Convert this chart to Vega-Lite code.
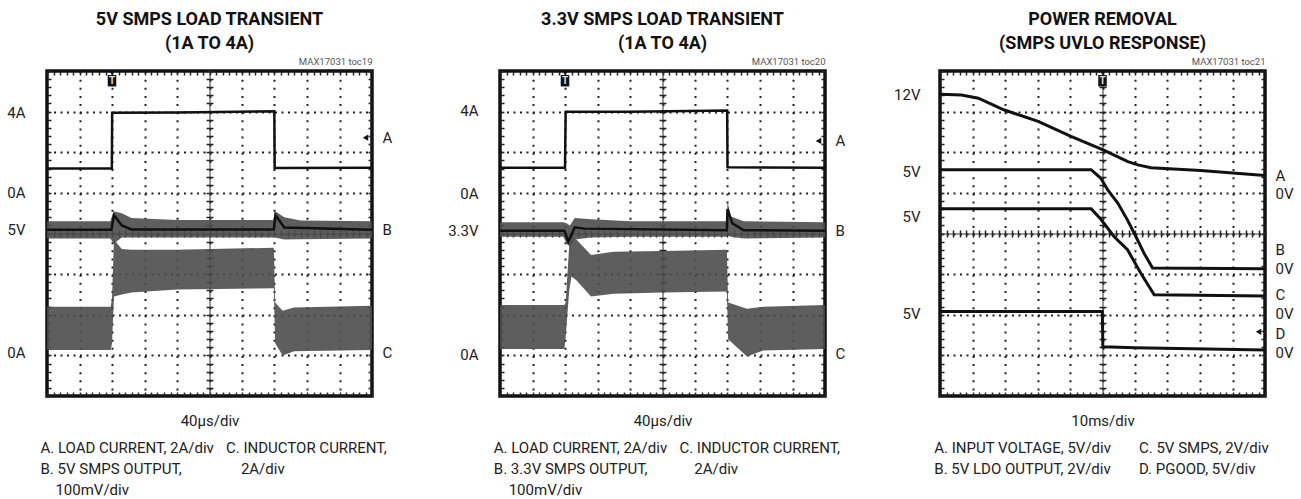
{
"$schema": "https://vega.github.io/schema/vega-lite/v6.json",
"padding": {"left": 5, "top": 9, "right": 0, "bottom": 0},
"bounds": "flush",
"spacing": 0,
"config": {
  "view": {"stroke": "#111", "strokeWidth": 3.5},
  "axis": {"grid": false, "ticks": false, "labels": false, "domain": false,
    "labelFont": "Roboto, sans-serif", "labelFontSize": 15, "labelColor": "#222",
    "labelOverlap": false, "labelBound": false, "labelFlush": false,
    "titleFont": "Roboto, sans-serif", "titleFontSize": 15, "titleFontWeight": "normal", "titleColor": "#222",
    "tickColor": "#222", "tickWidth": 1.5, "domainColor": "#333", "domainWidth": 1, "gridColor": "#222", "gridWidth": 2}
},
"datasets": {
  "p1_lines": [
    {"trace":"A","x":0,"y":5.6},{"trace":"A","x":1.995,"y":5.6},{"trace":"A","x":2.005,"y":6.97},{"trace":"A","x":4,"y":6.98},{"trace":"A","x":6.995,"y":7.01},{"trace":"A","x":7.005,"y":5.61},{"trace":"A","x":10,"y":5.62},
    {"trace":"B","x":0,"y":4.09},{"trace":"B","x":1.98,"y":4.09},{"trace":"B","x":2.06,"y":4.45},{"trace":"B","x":2.3,"y":4.2},{"trace":"B","x":2.6,"y":4.1},{"trace":"B","x":6.98,"y":4.1},{"trace":"B","x":7.03,"y":4.45},{"trace":"B","x":7.3,"y":4.15},{"trace":"B","x":10,"y":4.09}
  ],
  "p1_bands": [
    {"trace":"B","x":0,"lo":3.88,"hi":4.3},{"trace":"B","x":1.95,"lo":3.88,"hi":4.3},{"trace":"B","x":2.05,"lo":3.75,"hi":4.55},{"trace":"B","x":2.3,"lo":3.9,"hi":4.5},{"trace":"B","x":2.6,"lo":3.9,"hi":4.38},{"trace":"B","x":4,"lo":3.9,"hi":4.33},{"trace":"B","x":6.97,"lo":3.9,"hi":4.33},{"trace":"B","x":7.02,"lo":3.9,"hi":4.55},{"trace":"B","x":7.3,"lo":3.85,"hi":4.4},{"trace":"B","x":7.8,"lo":3.86,"hi":4.32},{"trace":"B","x":10,"lo":3.88,"hi":4.3},
    {"trace":"C","x":0,"lo":1.13,"hi":2.2},{"trace":"C","x":1.96,"lo":1.13,"hi":2.2},{"trace":"C","x":2.0,"lo":1.3,"hi":2.4},{"trace":"C","x":2.06,"lo":2.45,"hi":3.85},{"trace":"C","x":2.3,"lo":2.5,"hi":3.62},{"trace":"C","x":2.6,"lo":2.55,"hi":3.6},{"trace":"C","x":4,"lo":2.62,"hi":3.6},{"trace":"C","x":6.98,"lo":2.65,"hi":3.65},{"trace":"C","x":7.02,"lo":1.3,"hi":2.3},{"trace":"C","x":7.25,"lo":1.0,"hi":2.1},{"trace":"C","x":7.6,"lo":1.1,"hi":2.18},{"trace":"C","x":10,"lo":1.13,"hi":2.22}
  ],
  "p1_trig": [{"x":2,"y":7.76}],
  "p1_gnd": [{"x":9.8,"y":6.36}],
  "p2_lines": [
    {"trace":"A","x":0,"y":5.62},{"trace":"A","x":2.0,"y":5.62},{"trace":"A","x":2.02,"y":7.0},{"trace":"A","x":4,"y":7.0},{"trace":"A","x":6.99,"y":7.03},{"trace":"A","x":7.0,"y":5.63},{"trace":"A","x":10,"y":5.62},
    {"trace":"B","x":0,"y":4.07},{"trace":"B","x":1.98,"y":4.07},{"trace":"B","x":2.1,"y":3.8},{"trace":"B","x":2.3,"y":4.15},{"trace":"B","x":2.6,"y":4.12},{"trace":"B","x":6.98,"y":4.08},{"trace":"B","x":7.0,"y":4.6},{"trace":"B","x":7.15,"y":4.25},{"trace":"B","x":7.5,"y":4.08},{"trace":"B","x":10,"y":4.07}
  ],
  "p2_bands": [
    {"trace":"B","x":0,"lo":3.92,"hi":4.28},{"trace":"B","x":1.95,"lo":3.92,"hi":4.28},{"trace":"B","x":2.05,"lo":3.75,"hi":4.25},{"trace":"B","x":2.15,"lo":3.68,"hi":4.2},{"trace":"B","x":2.3,"lo":3.85,"hi":4.38},{"trace":"B","x":2.8,"lo":3.9,"hi":4.35},{"trace":"B","x":4,"lo":3.92,"hi":4.3},{"trace":"B","x":6.98,"lo":3.92,"hi":4.3},{"trace":"B","x":7.0,"lo":3.95,"hi":4.8},{"trace":"B","x":7.1,"lo":3.92,"hi":4.42},{"trace":"B","x":7.5,"lo":3.88,"hi":4.3},{"trace":"B","x":10,"lo":3.9,"hi":4.28},
    {"trace":"C","x":0,"lo":1.16,"hi":2.24},{"trace":"C","x":1.98,"lo":1.16,"hi":2.24},{"trace":"C","x":2.02,"lo":1.45,"hi":2.3},{"trace":"C","x":2.13,"lo":2.6,"hi":3.7},{"trace":"C","x":2.2,"lo":2.94,"hi":3.89},{"trace":"C","x":2.35,"lo":2.85,"hi":3.85},{"trace":"C","x":2.8,"lo":2.45,"hi":3.47},{"trace":"C","x":3.5,"lo":2.52,"hi":3.55},{"trace":"C","x":5,"lo":2.55,"hi":3.57},{"trace":"C","x":6.98,"lo":2.57,"hi":3.6},{"trace":"C","x":7.02,"lo":1.4,"hi":2.3},{"trace":"C","x":7.6,"lo":0.97,"hi":2.15},{"trace":"C","x":8.1,"lo":1.12,"hi":2.2},{"trace":"C","x":10,"lo":1.16,"hi":2.24}
  ],
  "p2_trig": [{"x":2,"y":7.76}],
  "p2_gnd": [{"x":9.8,"y":6.28}],
  "p3_lines": [
    {"trace":"A","x":0,"y":7.43},{"trace":"A","x":0.66,"y":7.41},{"trace":"A","x":1.18,"y":7.33},{"trace":"A","x":1.98,"y":7.04},{"trace":"A","x":3.02,"y":6.76},{"trace":"A","x":4.03,"y":6.39},{"trace":"A","x":5.02,"y":6.06},{"trace":"A","x":5.78,"y":5.77},{"trace":"A","x":6.09,"y":5.69},{"trace":"A","x":6.49,"y":5.62},{"trace":"A","x":8.02,"y":5.55},{"trace":"A","x":10,"y":5.43},
    {"trace":"B","x":0,"y":5.57},{"trace":"B","x":4.65,"y":5.57},{"trace":"B","x":4.95,"y":5.36},{"trace":"B","x":5.16,"y":5.07},{"trace":"B","x":5.47,"y":4.75},{"trace":"B","x":5.77,"y":4.33},{"trace":"B","x":6.03,"y":3.92},{"trace":"B","x":6.28,"y":3.51},{"trace":"B","x":6.54,"y":3.15},{"trace":"B","x":10,"y":3.13},
    {"trace":"C","x":0,"y":4.61},{"trace":"C","x":4.65,"y":4.61},{"trace":"C","x":4.95,"y":4.35},{"trace":"C","x":5.36,"y":3.92},{"trace":"C","x":5.77,"y":3.6},{"trace":"C","x":6.18,"y":3.02},{"trace":"C","x":6.59,"y":2.49},{"trace":"C","x":10,"y":2.46},
    {"trace":"D","x":0,"y":2.08},{"trace":"D","x":4.995,"y":2.08},{"trace":"D","x":5.01,"y":1.21},{"trace":"D","x":6,"y":1.19},{"trace":"D","x":10,"y":1.13}
  ],
  "p3_trig": [{"x":5,"y":7.76}],
  "p3_gnd": [{"x":9.8,"y":1.58}]
},
"hconcat": [
 {
  "width": 325, "height": 325,
  "title": {"text": ["5V SMPS LOAD TRANSIENT", "(1A TO 4A)"], "font": "Roboto, sans-serif", "fontSize": 18, "fontWeight": "bold", "lineHeight": 23.5, "color": "#111", "anchor": "middle", "offset": 4},
  "resolve": {"axis": {"x": "independent", "y": "independent"}},
  "layer": [
   {"data": {"values": []}, "mark": {"type": "rule"}, "encoding": {
     "x": {"field": "x", "type": "quantitative", "scale": {"domain": [0, 10], "nice": false, "zero": false}, "axis": {"orient": "bottom", "grid": true, "values": [1,2,3,4,5,6,7,8,9], "gridDash": [2, 6.125], "title": ["A. LOAD CURRENT, 2A/div", "B. 5V SMPS OUTPUT,", "\u200b\u00a0\u00a0\u00a0\u00a0100mV/div"], "titleX": -7, "titleY": 56, "titleAlign": "left", "titleAnchor": "start", "titleBaseline": "alphabetic", "titleLineHeight": 21}},
     "y": {"field": "y", "type": "quantitative", "scale": {"domain": [0, 8], "nice": false, "zero": false}, "axis": {"orient": "left", "grid": true, "values": [1,2,3,4,5,6,7], "gridDash": [2, 4.5], "title": null}}}},
   {"data": {"values": []}, "mark": {"type": "rule"}, "encoding": {
     "x": {"field": "x", "type": "quantitative", "scale": {"domain": [0, 10], "nice": false, "zero": false}, "axis": {"orient": "top", "ticks": true, "tickCount": 50, "tickSize": -4, "title": "MAX17031 toc19", "titleFontSize": 9.5, "titleColor": "#555", "titleX": 325, "titleY": -6.5, "titleAlign": "right", "titleAnchor": "end", "titleBaseline": "alphabetic"}},
     "y": {"field": "y", "type": "quantitative", "scale": {"domain": [0, 8], "nice": false, "zero": false}, "axis": {"orient": "left", "ticks": true, "tickCount": 40, "tickSize": -4, "title": null}}}},
   {"data": {"values": []}, "mark": {"type": "rule"}, "encoding": {
     "x": {"field": "x", "type": "quantitative", "scale": {"domain": [0, 10], "nice": false, "zero": false}, "axis": {"orient": "bottom", "ticks": true, "tickCount": 50, "tickSize": -4, "title": "40\u00b5s/div", "titleX": 162.5, "titleY": 29.5, "titleAlign": "center", "titleAnchor": "middle", "titleBaseline": "alphabetic"}},
     "y": {"field": "y", "type": "quantitative", "scale": {"domain": [0, 8], "nice": false, "zero": false}, "axis": {"orient": "right", "ticks": true, "tickCount": 40, "tickSize": -4, "title": null}}}},
   {"data": {"values": []}, "mark": {"type": "rule"}, "encoding": {
     "x": {"field": "x", "type": "quantitative", "scale": {"domain": [0, 10], "nice": false, "zero": false}, "axis": {"orient": "bottom", "offset": -162.5, "ticks": true, "tickCount": 50, "tickSize": 3.5, "domain": true, "title": null}},
     "y": {"field": "y", "type": "quantitative", "scale": {"domain": [0, 8], "nice": false, "zero": false}, "axis": {"orient": "left", "offset": -162.5, "ticks": true, "tickCount": 40, "tickSize": 3.5, "domain": true, "title": null}}}},
   {"data": {"values": []}, "mark": {"type": "rule"}, "encoding": {
     "x": {"field": "x", "type": "quantitative", "scale": {"domain": [0, 10], "nice": false, "zero": false}, "axis": {"orient": "top", "offset": -162.5, "ticks": true, "tickCount": 50, "tickSize": 3.5, "title": null}},
     "y": {"field": "y", "type": "quantitative", "scale": {"domain": [0, 8], "nice": false, "zero": false}, "axis": {"orient": "right", "offset": -162.5, "ticks": true, "tickCount": 40, "tickSize": 3.5, "title": null}}}},
   {"data": {"values": []}, "mark": {"type": "rule"}, "encoding": {
     "x": {"field": "x", "type": "quantitative", "scale": {"domain": [0, 10], "nice": false, "zero": false}, "axis": {"orient": "bottom", "title": ["C. INDUCTOR CURRENT,", "\u200b\u00a0\u00a0\u00a0\u00a02A/div"], "titleX": 178.5, "titleY": 56, "titleAlign": "left", "titleAnchor": "start", "titleBaseline": "alphabetic", "titleLineHeight": 21}},
     "y": {"field": "y", "type": "quantitative", "scale": {"domain": [0, 8], "nice": false, "zero": false}, "axis": {"orient": "left", "labels": true, "values": [6.98, 5.01, 4.09, 1.06], "labelExpr": "['4A','0A','5V','0A'][indexof([6.98, 5.01, 4.09, 1.06], datum.value)]", "labelPadding": 22, "title": null}}}},
   {"data": {"values": []}, "mark": {"type": "rule"}, "encoding": {
     "x": {"field": "x", "type": "quantitative", "scale": {"domain": [0, 10], "nice": false, "zero": false}, "axis": null},
     "y": {"field": "y", "type": "quantitative", "scale": {"domain": [0, 8], "nice": false, "zero": false}, "axis": {"orient": "right", "labels": true, "values": [6.36, 4.09, 1.06], "labelExpr": "['A','B','C'][indexof([6.36, 4.09, 1.06], datum.value)]", "labelPadding": 10, "labelAlign": "left", "title": null}}}},
   {"data": {"name": "p1_bands"}, "mark": {"type": "area", "color": "#4d4d4d", "opacity": 0.9}, "encoding": {
     "x": {"field": "x", "type": "quantitative", "scale": {"domain": [0, 10], "nice": false, "zero": false}, "axis": null},
     "y": {"field": "lo", "type": "quantitative", "scale": {"domain": [0, 8], "nice": false, "zero": false}, "axis": null},
     "y2": {"field": "hi"}, "detail": {"field": "trace"}}},
   {"data": {"name": "p1_lines"}, "mark": {"type": "line", "color": "#111", "strokeWidth": 2.5}, "encoding": {
     "x": {"field": "x", "type": "quantitative", "scale": {"domain": [0, 10], "nice": false, "zero": false}, "axis": null},
     "y": {"field": "y", "type": "quantitative", "scale": {"domain": [0, 8], "nice": false, "zero": false}, "axis": null},
     "detail": {"field": "trace"}}},
   {"data": {"name": "p1_trig"}, "mark": {"type": "point", "shape": "M-0.75,-1H0.75V1H-0.75Z", "filled": true, "color": "#111", "opacity": 1, "size": 130}, "encoding": {
     "x": {"field": "x", "type": "quantitative", "scale": {"domain": [0, 10], "nice": false, "zero": false}, "axis": null},
     "y": {"field": "y", "type": "quantitative", "scale": {"domain": [0, 8], "nice": false, "zero": false}, "axis": null}}},
   {"data": {"name": "p1_trig"}, "mark": {"type": "text", "text": "T", "color": "#ddd", "fontSize": 10, "fontWeight": "bold", "font": "Roboto, sans-serif", "baseline": "middle", "align": "center"}, "encoding": {
     "x": {"field": "x", "type": "quantitative", "scale": {"domain": [0, 10], "nice": false, "zero": false}, "axis": null},
     "y": {"field": "y", "type": "quantitative", "scale": {"domain": [0, 8], "nice": false, "zero": false}, "axis": null}}},
   {"data": {"name": "p1_trig"}, "mark": {"type": "point", "shape": "triangle-down", "filled": true, "color": "#111", "opacity": 1, "size": 25}, "encoding": {
     "x": {"field": "x", "type": "quantitative", "scale": {"domain": [0, 10], "nice": false, "zero": false}, "axis": null},
     "y": {"datum": 7.95, "type": "quantitative", "scale": {"domain": [0, 8], "nice": false, "zero": false}, "axis": null}}},
   {"data": {"name": "p1_gnd"}, "mark": {"type": "point", "shape": "triangle-left", "filled": true, "color": "#111", "opacity": 1, "size": 40}, "encoding": {
     "x": {"field": "x", "type": "quantitative", "scale": {"domain": [0, 10], "nice": false, "zero": false}, "axis": null},
     "y": {"field": "y", "type": "quantitative", "scale": {"domain": [0, 8], "nice": false, "zero": false}, "axis": null}}}
  ]
 },
 {"width": 128, "height": 325, "data": {"values": []}, "mark": {"type": "point"}, "encoding": {}, "view": {"stroke": null}},
 {
  "width": 325, "height": 325,
  "title": {"text": ["3.3V SMPS LOAD TRANSIENT", "(1A TO 4A)"], "font": "Roboto, sans-serif", "fontSize": 18, "fontWeight": "bold", "lineHeight": 23.5, "color": "#111", "anchor": "middle", "offset": 4},
  "resolve": {"axis": {"x": "independent", "y": "independent"}},
  "layer": [
   {"data": {"values": []}, "mark": {"type": "rule"}, "encoding": {
     "x": {"field": "x", "type": "quantitative", "scale": {"domain": [0, 10], "nice": false, "zero": false}, "axis": {"orient": "bottom", "grid": true, "values": [1,2,3,4,5,6,7,8,9], "gridDash": [2, 6.125], "title": ["A. LOAD CURRENT, 2A/div", "B. 3.3V SMPS OUTPUT,", "\u200b\u00a0\u00a0\u00a0\u00a0100mV/div"], "titleX": -6.7, "titleY": 56, "titleAlign": "left", "titleAnchor": "start", "titleBaseline": "alphabetic", "titleLineHeight": 21}},
     "y": {"field": "y", "type": "quantitative", "scale": {"domain": [0, 8], "nice": false, "zero": false}, "axis": {"orient": "left", "grid": true, "values": [1,2,3,4,5,6,7], "gridDash": [2, 4.5], "title": null}}}},
   {"data": {"values": []}, "mark": {"type": "rule"}, "encoding": {
     "x": {"field": "x", "type": "quantitative", "scale": {"domain": [0, 10], "nice": false, "zero": false}, "axis": {"orient": "top", "ticks": true, "tickCount": 50, "tickSize": -4, "title": "MAX17031 toc20", "titleFontSize": 9.5, "titleColor": "#555", "titleX": 325, "titleY": -6.5, "titleAlign": "right", "titleAnchor": "end", "titleBaseline": "alphabetic"}},
     "y": {"field": "y", "type": "quantitative", "scale": {"domain": [0, 8], "nice": false, "zero": false}, "axis": {"orient": "left", "ticks": true, "tickCount": 40, "tickSize": -4, "title": null}}}},
   {"data": {"values": []}, "mark": {"type": "rule"}, "encoding": {
     "x": {"field": "x", "type": "quantitative", "scale": {"domain": [0, 10], "nice": false, "zero": false}, "axis": {"orient": "bottom", "ticks": true, "tickCount": 50, "tickSize": -4, "title": "40\u00b5s/div", "titleX": 162.5, "titleY": 29.5, "titleAlign": "center", "titleAnchor": "middle", "titleBaseline": "alphabetic"}},
     "y": {"field": "y", "type": "quantitative", "scale": {"domain": [0, 8], "nice": false, "zero": false}, "axis": {"orient": "right", "ticks": true, "tickCount": 40, "tickSize": -4, "title": null}}}},
   {"data": {"values": []}, "mark": {"type": "rule"}, "encoding": {
     "x": {"field": "x", "type": "quantitative", "scale": {"domain": [0, 10], "nice": false, "zero": false}, "axis": {"orient": "bottom", "offset": -162.5, "ticks": true, "tickCount": 50, "tickSize": 3.5, "domain": true, "title": null}},
     "y": {"field": "y", "type": "quantitative", "scale": {"domain": [0, 8], "nice": false, "zero": false}, "axis": {"orient": "left", "offset": -162.5, "ticks": true, "tickCount": 40, "tickSize": 3.5, "domain": true, "title": null}}}},
   {"data": {"values": []}, "mark": {"type": "rule"}, "encoding": {
     "x": {"field": "x", "type": "quantitative", "scale": {"domain": [0, 10], "nice": false, "zero": false}, "axis": {"orient": "top", "offset": -162.5, "ticks": true, "tickCount": 50, "tickSize": 3.5, "title": null}},
     "y": {"field": "y", "type": "quantitative", "scale": {"domain": [0, 8], "nice": false, "zero": false}, "axis": {"orient": "right", "offset": -162.5, "ticks": true, "tickCount": 40, "tickSize": 3.5, "title": null}}}},
   {"data": {"values": []}, "mark": {"type": "rule"}, "encoding": {
     "x": {"field": "x", "type": "quantitative", "scale": {"domain": [0, 10], "nice": false, "zero": false}, "axis": {"orient": "bottom", "title": ["C. INDUCTOR CURRENT,", "\u200b\u00a0\u00a0\u00a0\u00a02A/div"], "titleX": 178.9, "titleY": 56, "titleAlign": "left", "titleAnchor": "start", "titleBaseline": "alphabetic", "titleLineHeight": 21}},
     "y": {"field": "y", "type": "quantitative", "scale": {"domain": [0, 8], "nice": false, "zero": false}, "axis": {"orient": "left", "labels": true, "values": [7.02, 4.99, 4.07, 1.03], "labelExpr": "['4A','0A','3.3V','0A'][indexof([7.02, 4.99, 4.07, 1.03], datum.value)]", "labelPadding": 22, "title": null}}}},
   {"data": {"values": []}, "mark": {"type": "rule"}, "encoding": {
     "x": {"field": "x", "type": "quantitative", "scale": {"domain": [0, 10], "nice": false, "zero": false}, "axis": null},
     "y": {"field": "y", "type": "quantitative", "scale": {"domain": [0, 8], "nice": false, "zero": false}, "axis": {"orient": "right", "labels": true, "values": [6.28, 4.07, 1.05], "labelExpr": "['A','B','C'][indexof([6.28, 4.07, 1.05], datum.value)]", "labelPadding": 10, "labelAlign": "left", "title": null}}}},
   {"data": {"name": "p2_bands"}, "mark": {"type": "area", "color": "#4d4d4d", "opacity": 0.9}, "encoding": {
     "x": {"field": "x", "type": "quantitative", "scale": {"domain": [0, 10], "nice": false, "zero": false}, "axis": null},
     "y": {"field": "lo", "type": "quantitative", "scale": {"domain": [0, 8], "nice": false, "zero": false}, "axis": null},
     "y2": {"field": "hi"}, "detail": {"field": "trace"}}},
   {"data": {"name": "p2_lines"}, "mark": {"type": "line", "color": "#111", "strokeWidth": 2.5}, "encoding": {
     "x": {"field": "x", "type": "quantitative", "scale": {"domain": [0, 10], "nice": false, "zero": false}, "axis": null},
     "y": {"field": "y", "type": "quantitative", "scale": {"domain": [0, 8], "nice": false, "zero": false}, "axis": null},
     "detail": {"field": "trace"}}},
   {"data": {"name": "p2_trig"}, "mark": {"type": "point", "shape": "M-0.75,-1H0.75V1H-0.75Z", "filled": true, "color": "#111", "opacity": 1, "size": 130}, "encoding": {
     "x": {"field": "x", "type": "quantitative", "scale": {"domain": [0, 10], "nice": false, "zero": false}, "axis": null},
     "y": {"field": "y", "type": "quantitative", "scale": {"domain": [0, 8], "nice": false, "zero": false}, "axis": null}}},
   {"data": {"name": "p2_trig"}, "mark": {"type": "text", "text": "T", "color": "#ddd", "fontSize": 10, "fontWeight": "bold", "font": "Roboto, sans-serif", "baseline": "middle", "align": "center"}, "encoding": {
     "x": {"field": "x", "type": "quantitative", "scale": {"domain": [0, 10], "nice": false, "zero": false}, "axis": null},
     "y": {"field": "y", "type": "quantitative", "scale": {"domain": [0, 8], "nice": false, "zero": false}, "axis": null}}},
   {"data": {"name": "p2_trig"}, "mark": {"type": "point", "shape": "triangle-down", "filled": true, "color": "#111", "opacity": 1, "size": 25}, "encoding": {
     "x": {"field": "x", "type": "quantitative", "scale": {"domain": [0, 10], "nice": false, "zero": false}, "axis": null},
     "y": {"datum": 7.95, "type": "quantitative", "scale": {"domain": [0, 8], "nice": false, "zero": false}, "axis": null}}},
   {"data": {"name": "p2_gnd"}, "mark": {"type": "point", "shape": "triangle-left", "filled": true, "color": "#111", "opacity": 1, "size": 40}, "encoding": {
     "x": {"field": "x", "type": "quantitative", "scale": {"domain": [0, 10], "nice": false, "zero": false}, "axis": null},
     "y": {"field": "y", "type": "quantitative", "scale": {"domain": [0, 8], "nice": false, "zero": false}, "axis": null}}}
  ]
 },
 {"width": 115, "height": 325, "data": {"values": []}, "mark": {"type": "point"}, "encoding": {}, "view": {"stroke": null}},
 {
  "width": 325, "height": 325,
  "title": {"text": ["POWER REMOVAL", "(SMPS UVLO RESPONSE)"], "font": "Roboto, sans-serif", "fontSize": 18, "fontWeight": "bold", "lineHeight": 23.5, "color": "#111", "anchor": "middle", "offset": 4},
  "resolve": {"axis": {"x": "independent", "y": "independent"}},
  "layer": [
   {"data": {"values": []}, "mark": {"type": "rule"}, "encoding": {
     "x": {"field": "x", "type": "quantitative", "scale": {"domain": [0, 10], "nice": false, "zero": false}, "axis": {"orient": "bottom", "grid": true, "values": [1,2,3,4,5,6,7,8,9], "gridDash": [2, 6.125], "title": ["A. INPUT VOLTAGE, 5V/div", "B. 5V LDO OUTPUT, 2V/div"], "titleX": -6.2, "titleY": 56, "titleAlign": "left", "titleAnchor": "start", "titleBaseline": "alphabetic", "titleLineHeight": 21}},
     "y": {"field": "y", "type": "quantitative", "scale": {"domain": [0, 8], "nice": false, "zero": false}, "axis": {"orient": "left", "grid": true, "values": [1,2,3,4,5,6,7], "gridDash": [2, 4.5], "title": null}}}},
   {"data": {"values": []}, "mark": {"type": "rule"}, "encoding": {
     "x": {"field": "x", "type": "quantitative", "scale": {"domain": [0, 10], "nice": false, "zero": false}, "axis": {"orient": "top", "ticks": true, "tickCount": 50, "tickSize": -4, "title": "MAX17031 toc21", "titleFontSize": 9.5, "titleColor": "#555", "titleX": 325, "titleY": -6.5, "titleAlign": "right", "titleAnchor": "end", "titleBaseline": "alphabetic"}},
     "y": {"field": "y", "type": "quantitative", "scale": {"domain": [0, 8], "nice": false, "zero": false}, "axis": {"orient": "left", "ticks": true, "tickCount": 40, "tickSize": -4, "title": null}}}},
   {"data": {"values": []}, "mark": {"type": "rule"}, "encoding": {
     "x": {"field": "x", "type": "quantitative", "scale": {"domain": [0, 10], "nice": false, "zero": false}, "axis": {"orient": "bottom", "ticks": true, "tickCount": 50, "tickSize": -4, "title": "10ms/div", "titleX": 162.5, "titleY": 29.5, "titleAlign": "center", "titleAnchor": "middle", "titleBaseline": "alphabetic"}},
     "y": {"field": "y", "type": "quantitative", "scale": {"domain": [0, 8], "nice": false, "zero": false}, "axis": {"orient": "right", "ticks": true, "tickCount": 40, "tickSize": -4, "title": null}}}},
   {"data": {"values": []}, "mark": {"type": "rule"}, "encoding": {
     "x": {"field": "x", "type": "quantitative", "scale": {"domain": [0, 10], "nice": false, "zero": false}, "axis": {"orient": "bottom", "offset": -162.5, "ticks": true, "tickCount": 50, "tickSize": 3.5, "domain": true, "title": null}},
     "y": {"field": "y", "type": "quantitative", "scale": {"domain": [0, 8], "nice": false, "zero": false}, "axis": {"orient": "left", "offset": -162.5, "ticks": true, "tickCount": 40, "tickSize": 3.5, "domain": true, "title": null}}}},
   {"data": {"values": []}, "mark": {"type": "rule"}, "encoding": {
     "x": {"field": "x", "type": "quantitative", "scale": {"domain": [0, 10], "nice": false, "zero": false}, "axis": {"orient": "top", "offset": -162.5, "ticks": true, "tickCount": 50, "tickSize": 3.5, "title": null}},
     "y": {"field": "y", "type": "quantitative", "scale": {"domain": [0, 8], "nice": false, "zero": false}, "axis": {"orient": "right", "offset": -162.5, "ticks": true, "tickCount": 40, "tickSize": 3.5, "title": null}}}},
   {"data": {"values": []}, "mark": {"type": "rule"}, "encoding": {
     "x": {"field": "x", "type": "quantitative", "scale": {"domain": [0, 10], "nice": false, "zero": false}, "axis": {"orient": "bottom", "title": ["C. 5V SMPS, 2V/div", "D. PGOOD, 5V/div"], "titleX": 198.5, "titleY": 56, "titleAlign": "left", "titleAnchor": "start", "titleBaseline": "alphabetic", "titleLineHeight": 21}},
     "y": {"field": "y", "type": "quantitative", "scale": {"domain": [0, 8], "nice": false, "zero": false}, "axis": {"orient": "left", "labels": true, "values": [7.43, 5.52, 4.43, 2.04], "labelExpr": "['12V','5V','5V','5V'][indexof([7.43, 5.52, 4.43, 2.04], datum.value)]", "labelPadding": 20, "title": null}}}},
   {"data": {"values": []}, "mark": {"type": "rule"}, "encoding": {
     "x": {"field": "x", "type": "quantitative", "scale": {"domain": [0, 10], "nice": false, "zero": false}, "axis": null},
     "y": {"field": "y", "type": "quantitative", "scale": {"domain": [0, 8], "nice": false, "zero": false}, "axis": {"orient": "right", "labels": true, "values": [5.44, 4.99, 3.6, 3.13, 2.49, 2.04, 1.55, 1.06], "labelExpr": "['A','0V','B','0V','C','0V','D','0V'][indexof([5.44, 4.99, 3.6, 3.13, 2.49, 2.04, 1.55, 1.06], datum.value)]", "labelPadding": 10, "labelAlign": "left", "title": null}}}},
   {"data": {"name": "p3_lines"}, "mark": {"type": "line", "color": "#111", "strokeWidth": 3}, "encoding": {
     "x": {"field": "x", "type": "quantitative", "scale": {"domain": [0, 10], "nice": false, "zero": false}, "axis": null},
     "y": {"field": "y", "type": "quantitative", "scale": {"domain": [0, 8], "nice": false, "zero": false}, "axis": null},
     "detail": {"field": "trace"}}},
   {"data": {"name": "p3_trig"}, "mark": {"type": "point", "shape": "M-0.75,-1H0.75V1H-0.75Z", "filled": true, "color": "#111", "opacity": 1, "size": 130}, "encoding": {
     "x": {"field": "x", "type": "quantitative", "scale": {"domain": [0, 10], "nice": false, "zero": false}, "axis": null},
     "y": {"field": "y", "type": "quantitative", "scale": {"domain": [0, 8], "nice": false, "zero": false}, "axis": null}}},
   {"data": {"name": "p3_trig"}, "mark": {"type": "text", "text": "T", "color": "#ddd", "fontSize": 10, "fontWeight": "bold", "font": "Roboto, sans-serif", "baseline": "middle", "align": "center"}, "encoding": {
     "x": {"field": "x", "type": "quantitative", "scale": {"domain": [0, 10], "nice": false, "zero": false}, "axis": null},
     "y": {"field": "y", "type": "quantitative", "scale": {"domain": [0, 8], "nice": false, "zero": false}, "axis": null}}},
   {"data": {"name": "p3_trig"}, "mark": {"type": "point", "shape": "triangle-down", "filled": true, "color": "#111", "opacity": 1, "size": 25}, "encoding": {
     "x": {"field": "x", "type": "quantitative", "scale": {"domain": [0, 10], "nice": false, "zero": false}, "axis": null},
     "y": {"datum": 7.95, "type": "quantitative", "scale": {"domain": [0, 8], "nice": false, "zero": false}, "axis": null}}},
   {"data": {"name": "p3_gnd"}, "mark": {"type": "point", "shape": "triangle-left", "filled": true, "color": "#111", "opacity": 1, "size": 40}, "encoding": {
     "x": {"field": "x", "type": "quantitative", "scale": {"domain": [0, 10], "nice": false, "zero": false}, "axis": null},
     "y": {"field": "y", "type": "quantitative", "scale": {"domain": [0, 8], "nice": false, "zero": false}, "axis": null}}}
  ]
 }
]
}
